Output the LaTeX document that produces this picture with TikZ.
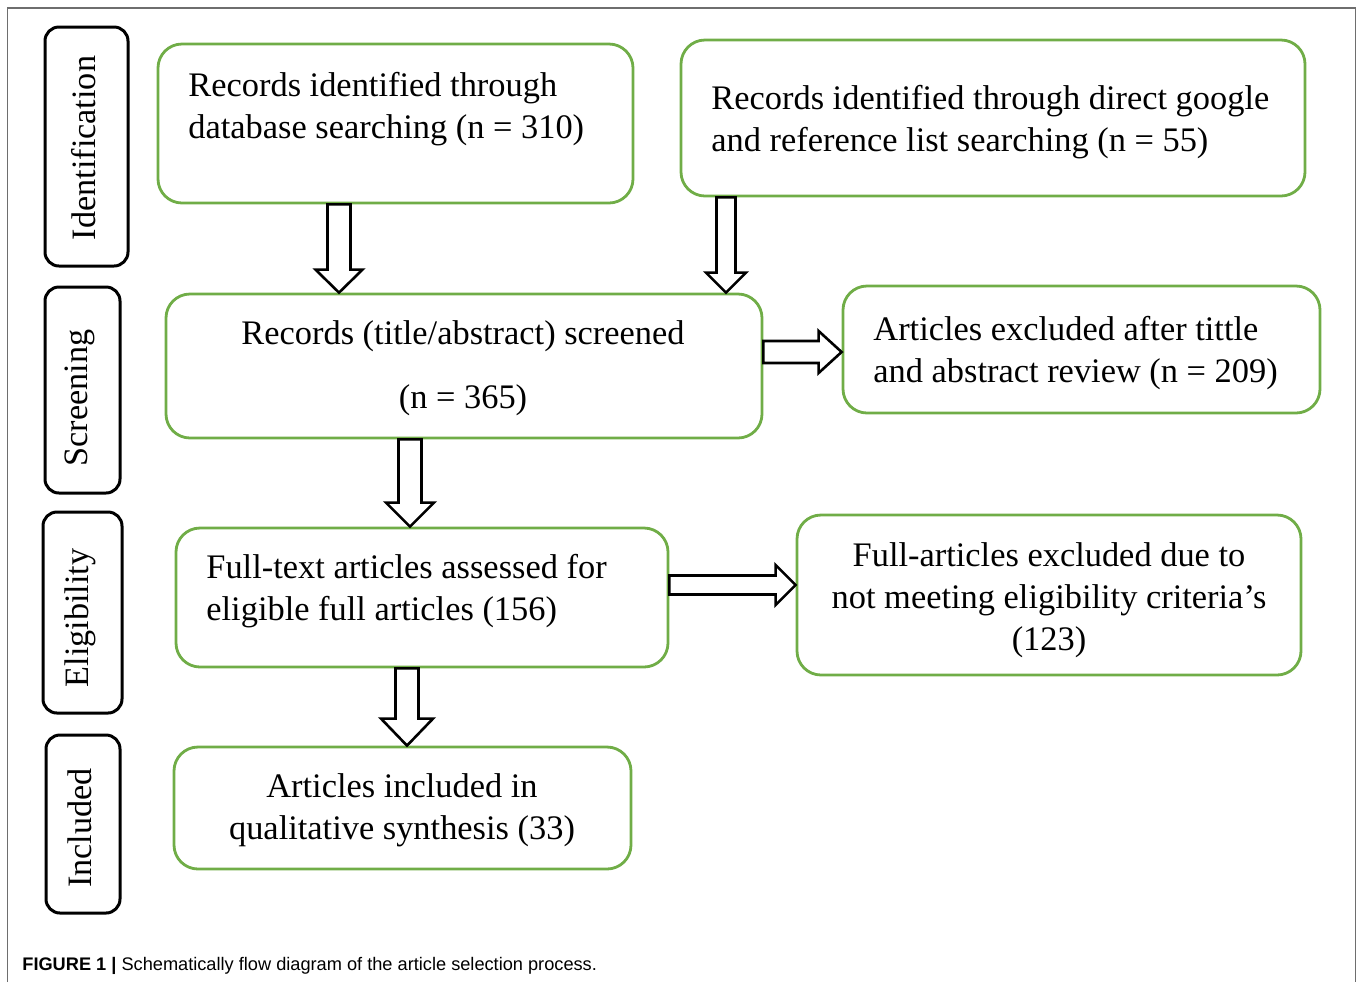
\documentclass[tikz,border=0pt]{standalone}
\usepackage{fontspec}
\setmainfont{Liberation Serif}
\newfontfamily\capfont{Liberation Sans}
\usetikzlibrary{fit,calc}
\definecolor{boxgreen}{RGB}{112,173,71}
\definecolor{framegray}{RGB}{110,110,110}
\newcommand\vblock[5]{%
  \draw[blk] ($(#1)+(-#3,0)$) -- ($(#2)+(-#3,-#5)$) -- ($(#2)+(-#4,-#5)$) -- (#2)
    -- ($(#2)+(#4,-#5)$) -- ($(#2)+(#3,-#5)$) -- ($(#1)+(#3,0)$) -- cycle;}
\newcommand\hblock[5]{%
  \draw[blk] ($(#1)+(0,-#3)$) -- ($(#2)+(-#5,-#3)$) -- ($(#2)+(-#5,-#4)$) -- (#2)
    -- ($(#2)+(-#5,#4)$) -- ($(#2)+(-#5,#3)$) -- ($(#1)+(0,#3)$) -- cycle;}
\begin{document}
\begin{tikzpicture}[x=0.5pt,y=-0.5pt,
  gbox/.style={draw=boxgreen, line width=1.4pt, rounded corners=12pt, inner sep=0pt},
  pbox/.style={draw=black, line width=1.5pt, rounded corners=7pt, inner sep=0pt},
  txt/.style={inner sep=0pt, font=\fontsize{17.2}{21}\selectfont},
  ptxt/.style={inner sep=0pt, rotate=90, font=\fontsize{17.1}{20}\selectfont},
  blk/.style={draw=black, fill=white, line width=1.3pt, line join=miter}]
\useasboundingbox (0,0) rectangle (1358,982);
% frame
\coordinate (f1) at (7.5,982);
\coordinate (f2) at (7.5,8);
\coordinate (f3) at (1355.5,8);
\coordinate (f4) at (1355.5,982);
\draw[framegray, line width=0.8pt] (f1) -- (f2) -- (f3) -- (f4);
% phase boxes
\node[pbox, fit={(45,27) (128,266)}] (pid) {};
\node[pbox, fit={(45,287) (120,493)}] (psc) {};
\node[pbox, fit={(43,512) (122,713)}] (pel) {};
\node[pbox, fit={(46,735) (120,913)}] (pin) {};
\node[ptxt] (tid) at (84,148) {Identification};
\node[ptxt] (tsc) at (80,398) {Screening};
\node[ptxt] (tel) at (80,618) {Eligibility};
\node[ptxt] (tin) at (80,828) {Included};
% green boxes
\node[gbox, fit={(158,44) (633,203)}] (b1) {};
\node[gbox, fit={(681,40) (1305,196)}] (b2) {};
\node[gbox, fit={(166,294) (762,438)}] (b3) {};
\node[gbox, fit={(843,286) (1320,413)}] (b4) {};
\node[gbox, fit={(176,528) (668,667)}] (b5) {};
\node[gbox, fit={(797,515) (1301,675)}] (b6) {};
\node[gbox, fit={(174,747) (631,869)}] (b7) {};
% texts
\node[txt, align=left, anchor=west] (t1) at (188,109) {Records identified through\\database searching (n = 310)};
\node[txt, align=left, anchor=west] (t2) at (711,122) {Records identified through direct google\\and reference list searching (n = 55)};
\node[txt, align=center] (t3) at (463,368) {Records (title/abstract) screened\\[11pt](n = 365)};
\node[txt, align=left, anchor=west] (t4) at (873,353) {Articles excluded after tittle\\and abstract review (n = 209)};
\node[txt, align=left, anchor=west] (t5) at (206,591) {Full-text articles assessed for\\eligible full articles (156)};
\node[txt, align=center] (t6) at (1049,600) {Full-articles excluded due to\\not meeting eligibility criteria’s\\(123)};
\node[txt, align=center] (t7) at (402,810) {Articles included in\\qualitative synthesis (33)};
% arrows
\coordinate (a1s) at (339,0 |- b1.south);
\coordinate (a1e) at (339,0 |- b3.north);
\vblock{a1s}{a1e}{11.5}{23.5}{23}
\coordinate (a2s) at (726,0 |- b2.south);
\coordinate (a2e) at (726,0 |- b3.north);
\vblock{a2s}{a2e}{9.5}{20}{20}
\coordinate (a3s) at (b3.east |- 0,352);
\coordinate (a3e) at (b4.west |- 0,352);
\hblock{a3s}{a3e}{11}{21}{23}
\coordinate (a4s) at (410,0 |- b3.south);
\coordinate (a4e) at (410,0 |- b5.north);
\vblock{a4s}{a4e}{11.5}{24}{24}
\coordinate (a5s) at (b5.east |- 0,585);
\coordinate (a5e) at (b6.west |- 0,585);
\hblock{a5s}{a5e}{9.5}{20}{20}
\coordinate (a6s) at (407,0 |- b5.south);
\coordinate (a6e) at (407,0 |- b7.north);
\vblock{a6s}{a6e}{11.5}{26}{27}
% caption
\node[inner sep=0pt, anchor=west, font=\capfont\fontsize{9.1}{11}\selectfont] (cap) at (22,966)
  {\textbf{FIGURE 1 |} Schematically flow diagram of the article selection process.};
\end{tikzpicture}
\end{document}
